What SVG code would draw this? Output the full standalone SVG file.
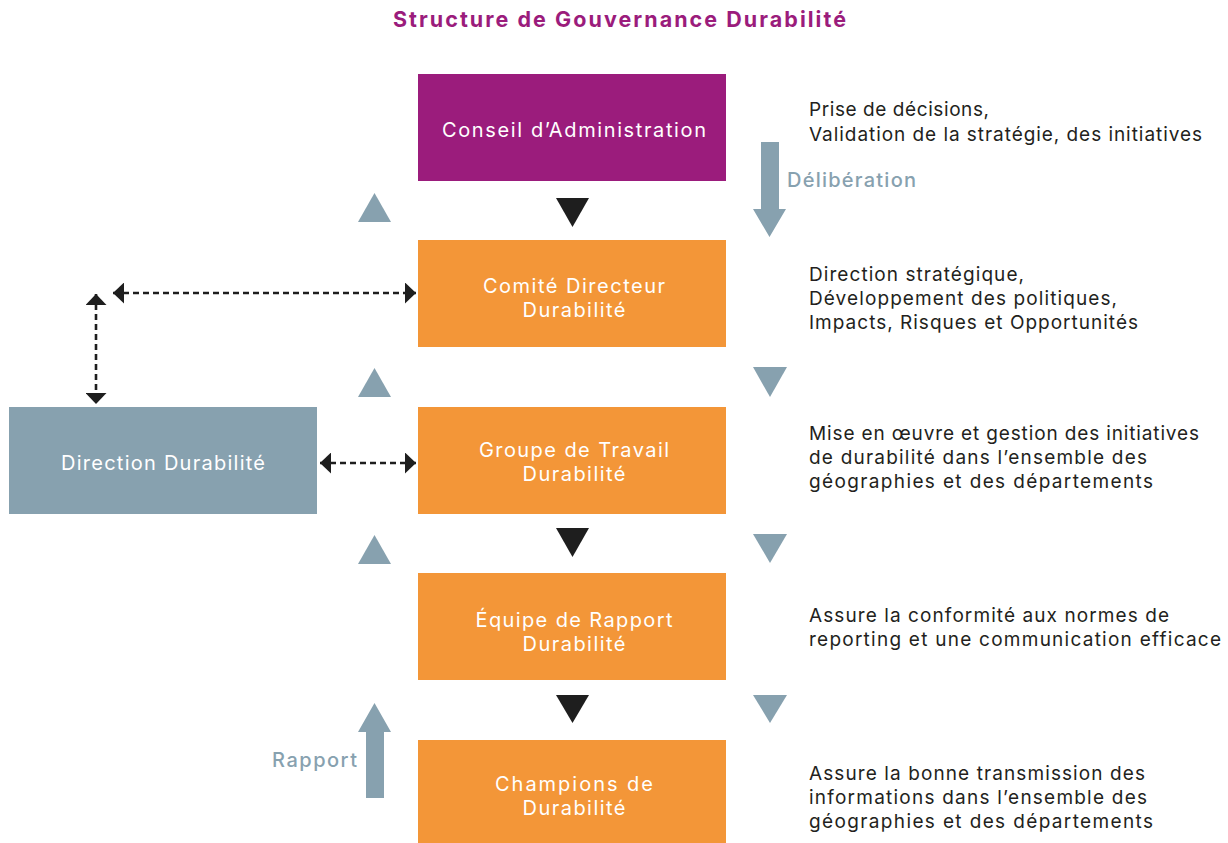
<svg xmlns="http://www.w3.org/2000/svg" width="1228" height="843" viewBox="0 0 1228 843">
<style>
text{font-family:Inter,"Open Sans","Liberation Sans",sans-serif}
.title{font-size:21.5px;font-weight:700;fill:#9B1C7C}
.lbl{font-size:20px;fill:#ffffff;text-anchor:middle}
.desc{font-size:19px;fill:#231F20}
.side{font-size:20px;fill:#87A1AF;font-weight:500}
.purple{fill:#9B1C7C}
.orange{fill:#F39638}
.gray{fill:#87A1AF}
.black{fill:#1E1E1E}
.dash{stroke:#1E1E1E;stroke-width:2.6;stroke-dasharray:6 4;fill:none}
</style>
<defs>
<marker id="ah" viewBox="0 0 11 21" markerUnits="userSpaceOnUse" markerWidth="11" markerHeight="21" refX="11" refY="10.5" orient="auto-start-reverse">
<path d="M0,0 L11,10.5 L0,21 Z" fill="#1E1E1E"/>
</marker>
</defs>
<rect width="1228" height="843" fill="#ffffff"/>
<text class="title" x="619.5" y="27" text-anchor="middle" textLength="453">Structure de Gouvernance Durabilité</text>

<g id="conseil">
<rect class="purple" x="418" y="74" width="308" height="107"/>
<text class="lbl" x="574" y="137" textLength="264">Conseil d’Administration</text>
</g>
<g id="comite">
<rect class="orange" x="418" y="240" width="308" height="107"/>
<text class="lbl" x="574" y="293" textLength="182">Comité Directeur</text>
<text class="lbl" x="574" y="317" textLength="103">Durabilité</text>
</g>
<g id="groupe">
<rect class="orange" x="418" y="407" width="308" height="107"/>
<text class="lbl" x="574" y="457" textLength="190">Groupe de Travail</text>
<text class="lbl" x="574" y="481" textLength="103">Durabilité</text>
</g>
<g id="equipe">
<rect class="orange" x="418" y="573" width="308" height="107"/>
<text class="lbl" x="574" y="627" textLength="197">Équipe de Rapport</text>
<text class="lbl" x="574" y="651" textLength="103">Durabilité</text>
</g>
<g id="champions">
<rect class="orange" x="418" y="740" width="308" height="107"/>
<text class="lbl" x="574" y="791" textLength="158">Champions de</text>
<text class="lbl" x="574" y="815" textLength="103">Durabilité</text>
</g>
<g id="direction">
<rect class="gray" x="9" y="407" width="308" height="107"/>
<text class="lbl" x="163" y="470" textLength="204">Direction Durabilité</text>
</g>

<g id="descriptions">
<text class="desc" x="809" y="116" textLength="180">Prise de décisions,</text>
<text class="desc" x="809" y="141" textLength="393">Validation de la stratégie, des initiatives</text>
<text class="desc" x="809" y="281" textLength="215">Direction stratégique,</text>
<text class="desc" x="809" y="305" textLength="308">Développement des politiques,</text>
<text class="desc" x="809" y="329" textLength="329">Impacts, Risques et Opportunités</text>
<text class="desc" x="809" y="440" textLength="390">Mise en œuvre et gestion des initiatives</text>
<text class="desc" x="809" y="464" textLength="338">de durabilité dans l’ensemble des</text>
<text class="desc" x="809" y="488" textLength="344">géographies et des départements</text>
<text class="desc" x="809" y="622" textLength="360">Assure la conformité aux normes de</text>
<text class="desc" x="809" y="646" textLength="412">reporting et une communication efficace</text>
<text class="desc" x="809" y="780" textLength="336">Assure la bonne transmission des</text>
<text class="desc" x="809" y="804" textLength="338">informations dans l’ensemble des</text>
<text class="desc" x="809" y="828" textLength="344">géographies et des départements</text>
</g>

<g id="connectors">
<polygon class="black" points="556,198 589,198 572.5,227"/>
<polygon class="black" points="556,528 589,528 572.5,557"/>
<polygon class="black" points="556,695 589,695 572.5,723"/>
<polygon class="gray" points="358,222 391,222 374.5,193"/>
<polygon class="gray" points="358,397 391,397 374.5,368"/>
<polygon class="gray" points="358,564 391,564 374.5,535"/>
<polygon class="gray" points="753,367 787,367 770,397"/>
<polygon class="gray" points="753,534 787,534 770,563"/>
<polygon class="gray" points="753,695 787,695 770,723"/>
<polygon class="gray" points="761,142 779,142 779,209 786,209 769.5,237 753,209 761,209"/>
<polygon class="gray" points="366,798 384,798 384,732 391,732 374.5,703 358,732 366,732"/>
<line class="dash" x1="113" y1="293" x2="416" y2="293" marker-start="url(#ah)" marker-end="url(#ah)"/>
<line class="dash" x1="96" y1="294" x2="96" y2="404" marker-start="url(#ah)" marker-end="url(#ah)"/>
<line class="dash" x1="320" y1="463" x2="416" y2="463" marker-start="url(#ah)" marker-end="url(#ah)"/>
</g>
<text class="side" x="787" y="187" textLength="129">Délibération</text>
<text class="side" x="272" y="767" textLength="85">Rapport</text>
</svg>
